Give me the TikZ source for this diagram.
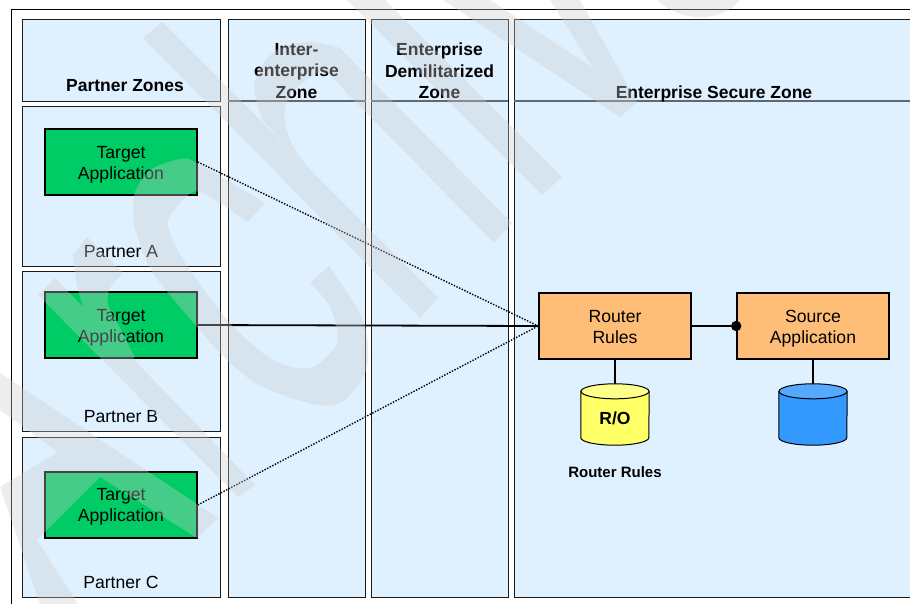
\documentclass[tikz,border=0pt]{standalone}
\usepackage{fontspec}
\setmainfont{Liberation Sans}
\definecolor{zonefill}{RGB}{223,240,255}
\definecolor{edgedark}{RGB}{26,26,26}
\definecolor{dividergray}{RGB}{95,105,115}
\definecolor{appgreen}{RGB}{0,204,102}
\definecolor{apporange}{RGB}{255,190,120}
\definecolor{dbyellow}{RGB}{255,255,102}
\definecolor{dbyellowtop}{RGB}{255,255,140}
\definecolor{dbblue}{RGB}{51,153,255}
\definecolor{dbbluetop}{RGB}{85,170,255}
\definecolor{wmark}{RGB}{205,205,205}
\tikzset{
  zone/.style={draw=edgedark,fill=zonefill,line width=0.9pt,inner sep=0pt,rectangle},
  appbox/.style={draw=black,line width=1.6pt,inner sep=0pt,rectangle,minimum width=152pt,minimum height=66pt},
  greenbox/.style={appbox,fill=appgreen},
  orangebox/.style={appbox,fill=apporange},
  plain/.style={inner sep=0pt,align=center,font=\fontsize{17.6}{21}\selectfont},
  heading/.style={inner sep=0pt,align=center,font=\fontsize{17.5}{21.3}\selectfont\bfseries},
  caption/.style={inner sep=0pt,font=\fontsize{15}{18}\selectfont\bfseries},
  divider/.style={draw=dividergray,line width=1.4pt},
  dotlink/.style={draw=black,line width=1.4pt,dash pattern=on 1.4pt off 1.5pt},
  dbslot/.style={inner sep=0pt,minimum width=68pt,minimum height=61pt,rectangle},
  wm/.style={fill=wmark}
}
\newcommand{\drumshape}[3]{%
  \filldraw[draw=black,line width=1pt,fill=#2] ([yshift=-7.5pt]#1.north west) -- ([yshift=7.5pt]#1.south west)
    arc (180:360:34pt and 7.5pt) -- ([yshift=-7.5pt]#1.north east) -- cycle;
  \filldraw[draw=black,line width=1pt,fill=#3] ([yshift=-7.5pt]#1.north) ellipse (34pt and 7.5pt);
}
\begin{document}
\begin{tikzpicture}[x=1pt,y=-1pt]
\useasboundingbox (0,0) rectangle (910,604);
\clip (0,0) rectangle (910,604);
\fill[white] (0,0) rectangle (910,604);
% outer frame
\coordinate (frameTR) at (915,9.5);
\coordinate (frameTL) at (11.5,9.5);
\coordinate (frameBL) at (11.5,610);
\draw[black,line width=1pt] (frameTR) -- (frameTL) -- (frameBL);
% zones
\node[zone,minimum width=198pt,minimum height=81.5pt] (pz) at (121.5,60.25) {};
\node[zone,minimum width=198pt,minimum height=160pt] (pa) at (121.5,186.5) {};
\node[zone,minimum width=198pt,minimum height=160pt] (pb) at (121.5,351.5) {};
\node[zone,minimum width=198pt,minimum height=160pt] (pc) at (121.5,517) {};
\node[zone,minimum width=137.5pt,minimum height=577.5pt] (iz) at (296.75,308.25) {};
\node[zone,minimum width=136.5pt,minimum height=577.5pt] (dz) at (439.75,308.25) {};
\node[zone,minimum width=404pt,minimum height=577.5pt] (sz) at (716,308.25) {};
\draw[divider] (iz.west |- 0,101) -- (iz.east |- 0,101);
\draw[divider] (dz.west |- 0,101) -- (dz.east |- 0,101);
\draw[divider] (sz.west |- 0,101) -- (sz.east |- 0,101);
% headings
\node[heading] (h1) at (125,86) {Partner Zones};
\node[heading] (h2) at (296.5,71) {Inter-\\enterprise\\Zone};
\node[heading] (h3) at (439.5,71) {Enterprise\\Demilitarized\\Zone};
\node[heading] (h4) at (714,93.5) {Enterprise Secure Zone};
\node[plain] (la) at (121,252) {Partner A};
\node[plain] (lb) at (121,417) {Partner B};
\node[plain] (lc) at (121,582) {Partner C};
% boxes
\node[greenbox] (ta) at (121,162) {};
\node[greenbox] (tb) at (121,325) {};
\node[greenbox] (tc) at (121,505) {};
\node[orangebox] (rr) at (615,326) {};
\node[orangebox] (sa) at (813,326) {};
\node[plain] (tat) at ([yshift=-3pt]ta.center) {Target\\Application};
\node[plain] (tbt) at ([yshift=-3pt]tb.center) {Target\\Application};
\node[plain] (tct) at ([yshift=-2pt]tc.center) {Target\\Application};
\node[plain] (rrt) at ([yshift=-1pt]rr.center) {Router\\Rules};
\node[plain] (sat) at ([yshift=-3pt]sa.center) {Source\\Application};
\node[dbslot] (dby) at (615,414.5) {};
\node[dbslot] (dbb) at (813,414.5) {};
% connectors
\draw[black,line width=1.7pt] (rr.south) -- (dby.north);
\draw[black,line width=1.3pt] (sa.south) -- (dbb.north);
\drumshape{dby}{dbyellow}{dbyellowtop}
\drumshape{dbb}{dbblue}{dbbluetop}
\node[heading] (ro) at (615,418.5) {R/O};
\node[caption] (rc) at (615,472.5) {Router Rules};
\draw[dotlink] (ta.east) -- (rr.west);
\draw[dotlink] (tc.east) -- (rr.west);
\draw[black,line width=1.8pt] (tb.east) -- (rr.west);
\draw[black,line width=2pt] (rr.east) -- (sa.west);
\fill[black] (sa.west) circle (5.2pt);
% watermark
\begin{scope}[transparency group,opacity=0.34]
\fill[wm] (143,38) -- (162,22) -- (438,298) -- (420,318) -- cycle;
\fill[wm] (262,120) -- plot[smooth] coordinates {(262,120) (254,87) (262,65) (280,48) (310,42) (340,48)} -- (512,223) -- (494,243) -- (345,91)
  -- plot[smooth] coordinates {(345,91) (325,72) (308,79) (293,92) (285,107) (286,127) (295,150) (313,173)} -- cycle;
\fill[wm] (347,0) -- (385,0) -- (562,177) -- (542,195) -- cycle;
\fill[wm] (443,0) -- (490,0) -- (593,68) -- (550,0) -- (580,0) -- (637,102) -- (620,117) -- cycle;
\fill[wm] (657,0) .. controls (680,22) and (720,24) .. (740,0) -- cycle;
\fill[wm] (38,295) -- (55,278) -- (255,485) -- (238,497) -- cycle;
\fill[wm] (73,255) -- (87,237) -- (123,273)
  -- plot[smooth] coordinates {(123,273) (110,288) (108,305) (120,328) (135,358)} -- (103,358)
  -- plot[smooth] coordinates {(103,358) (87,318) (77,285) (73,255)} -- cycle;
\fill[wm] (265,203) -- plot[smooth] coordinates {(265,203) (197,163) (180,159) (150,170) (135,192) (133,213) (137,235) (153,273) (197,327) (230,363) (263,387) (317,405) (345,400) (367,367) (363,320) (329,266)}
  -- (310,283) -- plot[smooth] coordinates {(310,283) (330,307) (337,343) (310,368) (273,360) (230,323) (190,270) (175,245) (168,222) (180,203) (200,192) (248,222)} -- cycle;
\fill[wm] (0,373) -- (218,518) -- (197,538) -- (100,477) -- (37,540) -- (78,604) -- (40,604) -- (0,487) -- (58,452) -- (0,410) -- cycle;
\end{scope}
\end{tikzpicture}
\end{document}
